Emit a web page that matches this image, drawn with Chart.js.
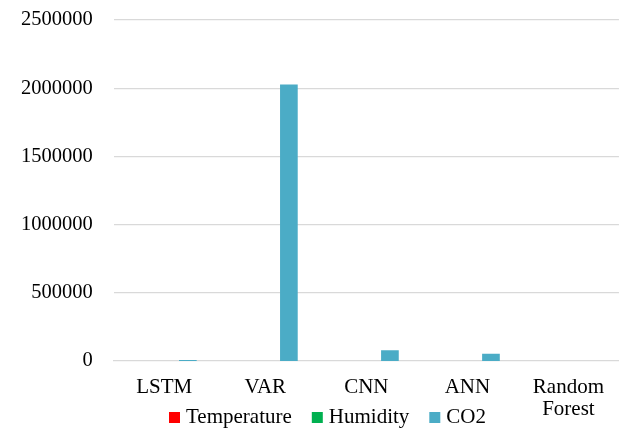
<!DOCTYPE html>
<html>
<head>
<meta charset="utf-8">
<script src="https://cdn.jsdelivr.net/npm/chart.js@4.4.1/dist/chart.umd.min.js"></script>
<style>
  html, body { margin: 0; padding: 0; background: #fff; }
  #wrap { width: 619px; height: 428px; position: relative; }
</style>
</head>
<body>
<div id="wrap"><canvas id="errChart"></canvas></div>
<script>
const models = ['LSTM', 'VAR', 'CNN', 'ANN', ['Random', 'Forest']];
const temperature = [1.5, 2.1, 1.8, 1.9, 1.3];
const humidity = [3.2, 4.5, 3.8, 3.6, 2.9];
const co2 = [7500, 2027000, 78000, 54000, 800];
const yTicks = [0, 500000, 1000000, 1500000, 2000000, 2500000];

const serif = '"Liberation Serif", "Times New Roman", serif';
const gridGray = '#D9D9D9';

// legend row drawn under the plot, sharing the line with "Forest"
const bottomLegend = {
    id: 'bottomLegend',
    afterDraw(chart) {
        const ctx = chart.ctx;
        ctx.save();
        ctx.font = '21px ' + serif;
        ctx.textBaseline = 'alphabetic';
        let x = 169;
        const baseY = 423;
        chart.data.datasets.forEach(ds => {
            ctx.fillStyle = ds.backgroundColor;
            ctx.fillRect(x, baseY - 11, 11, 11);
            x += 17;
            ctx.fillStyle = '#000';
            ctx.fillText(ds.label, x, baseY);
            x += ctx.measureText(ds.label).width + 20;
        });
        ctx.restore();
    }
};

new Chart(document.getElementById('errChart').getContext('2d'), {
    type: 'bar',
    data: {
        labels: models,
        datasets: [{
            label: 'Temperature',
            data: temperature,
            backgroundColor: '#FF0000'
        }, {
            label: 'Humidity',
            data: humidity,
            backgroundColor: '#00B050'
        }, {
            label: 'CO2',
            data: co2,
            backgroundColor: '#4BACC6'
        }]
    },
    options: {
        responsive: true,
        maintainAspectRatio: false,
        animation: false,
        categoryPercentage: 0.7,
        barPercentage: 0.75,
        elements: { bar: { inflateAmount: 0 } },
        layout: {
            padding: { top: 0, right: 0, bottom: 0, left: 0 }
        },
        plugins: {
            legend: { display: false },
            tooltip: { enabled: false }
        },
        scales: {
            y: {
                min: 0,
                max: 2500000,
                afterBuildTicks(axis) {
                    axis.ticks = yTicks.map(v => ({ value: v }));
                },
                afterFit(axis) {
                    axis.paddingTop = 20;
                },
                border: { display: false },
                grid: {
                    color: gridGray,
                    // the zero line comes from the x axis border instead
                    lineWidth: c => (c.tick && c.tick.value === 0 ? 0 : 1.3),
                    drawTicks: false
                },
                ticks: {
                    color: '#000',
                    padding: 21,
                    callback: v => String(v),
                    font: { family: serif, size: 20.5 }
                }
            },
            x: {
                afterFit(axis) {
                    axis.height = 67;
                },
                border: { display: true, color: gridGray, width: 1.3 },
                grid: { display: false, drawTicks: false },
                ticks: {
                    color: '#000',
                    padding: 15,
                    maxRotation: 0,
                    autoSkip: false,
                    font: { family: serif, size: 21, lineHeight: 1.07 }
                }
            }
        }
    },
    plugins: [bottomLegend]
});
</script>
</body>
</html>
